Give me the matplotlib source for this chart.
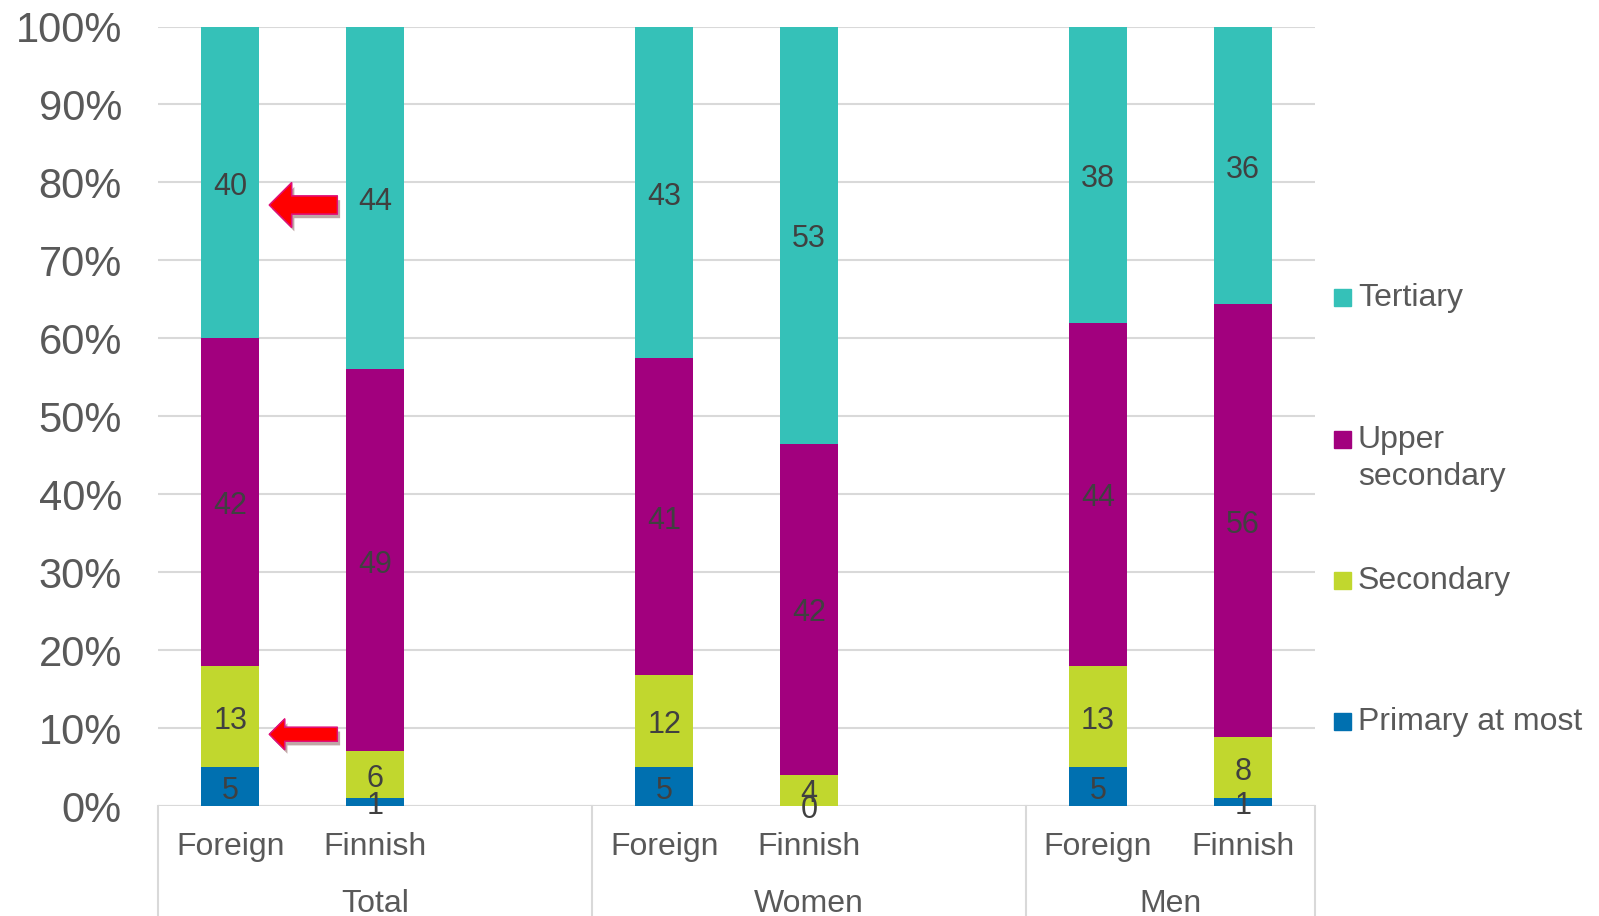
import matplotlib
matplotlib.use("Agg")
import matplotlib.pyplot as plt
import matplotlib.patheffects as pe
from matplotlib.patches import Rectangle
from matplotlib.transforms import offset_copy
import numpy as np

plt.rcParams['font.family'] = ['Liberation Sans', 'DejaVu Sans']

# ---- data ----
groups = ["Total", "Women", "Men"]
origins = ["Foreign", "Finnish"]
series = ["Primary at most", "Secondary", "Upper secondary", "Tertiary"]
primary = [5, 1, 5, 0, 5, 1]
secondary = [13, 6, 12, 4, 13, 8]
upper_secondary = [42, 49, 41, 42, 44, 56]
tertiary = [40, 44, 43, 53, 38, 36]
colors = ["#0070B0", "#C1D72E", "#A2007E", "#35C1B8"]
yticks = [0, 10, 20, 30, 40, 50, 60, 70, 80, 90, 100]

W, H = 1599, 916
fig = plt.figure(figsize=(W / 100, H / 100), dpi=100)
ax = fig.add_axes([158 / W, 1 - 806 / H, (1315 - 158) / W, (806 - 26.5) / H])

# bar positions: 2 bars per group, one empty slot between groups
xpos = []
for g in range(len(groups)):
    for o in range(len(origins)):
        xpos.append(g * 3 + o)
xpos = np.array(xpos, dtype=float)

raw = np.array([primary, secondary, upper_secondary, tertiary], dtype=float)
totals = raw.sum(axis=0)
pct = raw / totals * 100

label_tr = offset_copy(ax.transData, fig=fig, x=0, y=-3, units='points')
bottom = np.zeros(len(xpos))
for i, name in enumerate(series):
    ax.bar(xpos, pct[i], bottom=bottom, width=0.4, color=colors[i], label=name, zorder=3)
    for j in range(len(xpos)):
        ax.text(xpos[j], bottom[j] + pct[i][j] / 2, f"{int(raw[i][j])}", transform=label_tr,
                ha='center', va='center', fontsize=22, color='#404040', zorder=5)
    bottom += pct[i]

ax.set_xlim(-0.5, 7.5)
ax.set_ylim(0, 100)
ax.set_yticks(yticks)
ax.set_yticklabels([f"{t}%" for t in yticks], fontsize=30, color='#595959')
ax.tick_params(axis='y', length=0, pad=26)
ax.set_xticks([])
for s in ax.spines.values():
    s.set_visible(False)
ax.grid(axis='y', color='#D9D9D9', linewidth=1.5, zorder=0)
ax.set_axisbelow(True)
ax.axhline(0, color='#D9D9D9', linewidth=1.5, zorder=2)

# category labels
trans = ax.get_xaxis_transform()
for j, x in enumerate(xpos):
    ax.text(x, -41 / 779.5, origins[j % 2], transform=trans, ha='center', va='center',
            fontsize=23, color='#595959')
group_centers = [1.0, 4.0, 6.5]
for g, name in enumerate(groups):
    ax.text(group_centers[g], -98 / 779.5, name, transform=trans, ha='center', va='center',
            fontsize=23, color='#595959')
for x in [-0.5, 2.5, 5.5, 7.5]:
    ax.plot([x, x], [0, -0.15], transform=trans, color='#D9D9D9', linewidth=1.5,
            clip_on=False)

# red arrows
shadow = [pe.withSimplePatchShadow(offset=(2, -3), alpha=0.35), pe.Normal()]
ax.annotate('', xy=(0.27, 77.1), xytext=(0.74, 77.1),
            arrowprops=dict(arrowstyle='simple,head_length=1.6,head_width=3.2,tail_width=1.3',
                            fc='#FF0000', ec='#E0107A', lw=1, shrinkA=0, shrinkB=0,
                            path_effects=shadow), zorder=6)
ax.annotate('', xy=(0.27, 9.2), xytext=(0.74, 9.2),
            arrowprops=dict(arrowstyle='simple,head_length=1.1,head_width=2.2,tail_width=1.0',
                            fc='#FF0000', ec='#E0107A', lw=1, shrinkA=0, shrinkB=0,
                            path_effects=shadow), zorder=6)

# legend (manual layout)
leg_items = [("Tertiary", colors[3], 297), ("Upper", colors[2], 439),
             ("Secondary", colors[1], 580), ("Primary at most", colors[0], 721)]
for label, c, yc in leg_items:
    fig.add_artist(Rectangle((1334 / W, 1 - (yc + 8.5) / H), 17 / W, 17 / H,
                             transform=fig.transFigure, color=c))
    fig.text(1358 / W, 1 - (yc + 1) / H, label, ha='left', va='center', fontsize=23,
             color='#595959')
fig.text(1358 / W, 1 - 477 / H, "secondary", ha='left', va='center', fontsize=23,
         color='#595959')

fig.savefig("out.png", dpi=100)
